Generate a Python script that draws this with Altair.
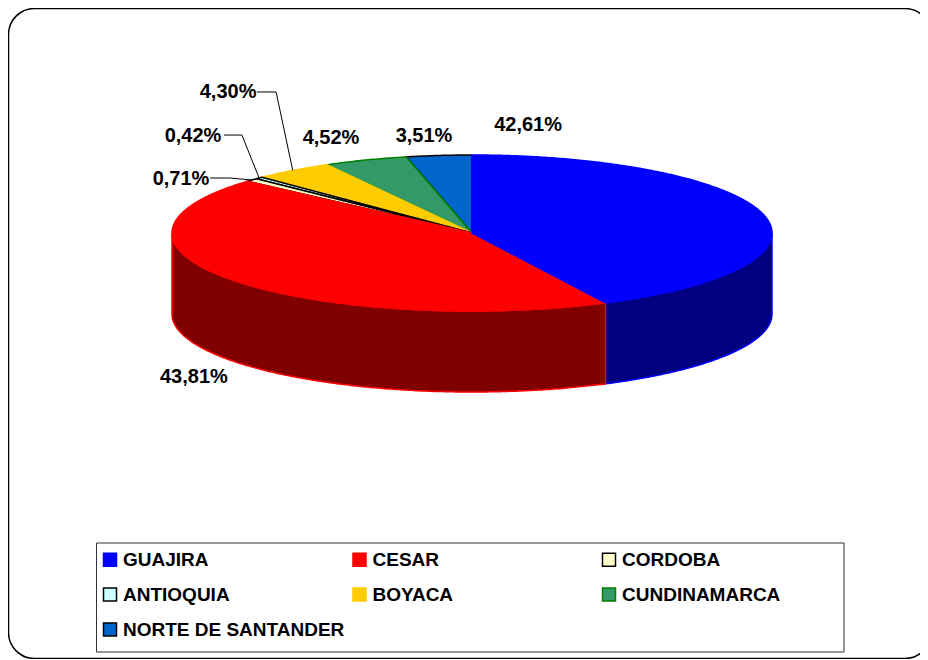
import math
import altair as alt
import pandas as pd

NAMES = ["GUAJIRA", "CESAR", "CORDOBA", "ANTIOQUIA", "BOYACA", "CUNDINAMARCA", "NORTE DE SANTANDER"]
SHARES = [42.61, 43.81, 0.71, 0.42, 4.30, 4.52, 3.51]
FILLS = ["#0000FF", "#FF0000", "#FFFFCC", "#CCFFFF", "#FFCC00", "#339966", "#0066CC"]
EDGES = ["#0000FF", "#FF0000", "#000000", "#000000", "#FFCC00", "#008000", "#000000"]
WALLS = {"GUAJIRA": ("#000080", "#0000FF"), "CESAR": ("#800000", "#FF0000")}
DRAW_ORDER = [6, 5, 4, 3, 2, 1, 0]

# layout, in pie radii
W, H = 912, 651
CX, CY, RX, RY = 464, 225, 300, 78
DEPTH = 81 / RY
LABEL_XY = {0: (0.187, 1.385), 1: (-0.927, -1.846), 2: (-0.97, 0.692), 3: (-0.93, 1.244),
            4: (-0.813, 1.808), 5: (-0.47, 1.218), 6: (-0.16, 1.244)}
LEADERS = {2: [(-0.873, 0.705), (-0.807, 0.705)],
           3: [(-0.827, 1.256), (-0.767, 1.256)],
           4: [(-0.717, 1.808), (-0.653, 1.808)]}

total = sum(SHARES)
bounds = [0.0]
for s in SHARES:
    bounds.append(bounds[-1] + s / total * 360)

def arc(a, b):
    n = max(2, int(abs(b - a) * 2))
    return [a + (b - a) * k / n for k in range(n + 1)]

def pt(deg, drop=0.0):
    r = math.radians(deg)
    return math.sin(r), math.cos(r) - drop

top = []
for seq, i in enumerate(DRAW_ORDER):
    pts = [(0.0, 0.0)] + [pt(d) for d in arc(bounds[i], bounds[i + 1])] + [(0.0, 0.0)]
    for k, (x, y) in enumerate(pts):
        top.append({"name": NAMES[i], "seq": seq, "k": k, "x": x, "y": y})
top = pd.DataFrame(top)

walls = []
for name, i, a, b in [("GUAJIRA", 0, 90.0, bounds[1]), ("CESAR", 1, bounds[1], 270.0)]:
    ring = [pt(d) for d in arc(a, b)] + [pt(d, DEPTH) for d in arc(b, a)]
    ring.append(ring[0])
    for k, (x, y) in enumerate(ring):
        walls.append({"name": name, "k": k, "x": x, "y": y, "f": WALLS[name][0], "s": WALLS[name][1]})
walls = pd.DataFrame(walls)

labels = pd.DataFrame([
    {"t": f"{SHARES[i]:.2f}%".replace(".", ","), "x": LABEL_XY[i][0], "y": LABEL_XY[i][1]}
    for i in range(len(NAMES))
])

lead = []
for i, (p0, p1) in LEADERS.items():
    p2 = pt((bounds[i] + bounds[i + 1]) / 2)
    for k, p in enumerate([p0, p1, p2]):
        lead.append({"i": i, "k": k, "x": p[0], "y": p[1]})
lead = pd.DataFrame(lead)

X = alt.X("x:Q", axis=None, scale=alt.Scale(domain=[-CX / RX, (W - CX) / RX], range=[0, W], nice=False, zero=False))
Y = alt.Y("y:Q", axis=None, scale=alt.Scale(domain=[-(H - CY) / RY, CY / RY], range=[H, 0], nice=False, zero=False))

one = pd.DataFrame({"a": [0]})
frame = alt.Chart(one).mark_rect(
    fill="white", stroke="black", strokeWidth=1.5, cornerRadius=26
).encode(x=alt.value(0.5), x2=alt.value(923), y=alt.value(0.5), y2=alt.value(H - 0.5))

legend_box = alt.Chart(one).mark_rect(
    fill="white", stroke="#333333", strokeWidth=1
).encode(x=alt.value(88.5), x2=alt.value(836), y=alt.value(535), y2=alt.value(644))

wall_layer = alt.Chart(walls).mark_line(strokeWidth=1.5, interpolate="linear").encode(
    x=X, y=Y, order="k:Q", detail="name:N",
    fill=alt.Fill("f:N", scale=None), stroke=alt.Stroke("s:N", scale=None),
)

legend = alt.Legend(
    title=None, orient="none", legendX=85.5, legendY=535, columns=3, gridAlign="all", direction="horizontal",
    symbolType="square", symbolSize=169, symbolStrokeWidth=1.5, symbolOpacity=1,
    labelFont="Liberation Sans", labelFontSize=19, labelFontWeight="bold", labelColor="black",
    labelLimit=400, labelOffset=3.5, columnPadding=5.5, rowPadding=15, padding=7,
)

top_layer = alt.Chart(top).mark_line(strokeWidth=1.5, interpolate="linear", strokeJoin="round").encode(
    x=X, y=Y, order="k:Q", detail="seq:O",
    fill=alt.Fill("name:N", scale=alt.Scale(domain=NAMES, range=FILLS), legend=legend),
    stroke=alt.Stroke("name:N", scale=alt.Scale(domain=NAMES, range=EDGES), legend=legend),
)

lead_layer = alt.Chart(lead).mark_line(color="black", strokeWidth=1).encode(
    x=X, y=Y, order="k:Q", detail="i:N"
)

text_layer = alt.Chart(labels).mark_text(
    font="Liberation Sans", fontSize=20, fontWeight="bold", color="black", align="center", baseline="middle"
).encode(x=X, y=Y, text="t:N")

chart = (
    alt.layer(frame, legend_box, wall_layer, top_layer, lead_layer, text_layer)
    .properties(width=W, height=H, padding=0, background="white", autosize=alt.AutoSizeParams(type="none"))
    .configure_view(stroke=None)
)

chart.save("out.html", embed_options={"renderer": "svg", "actions": False})
